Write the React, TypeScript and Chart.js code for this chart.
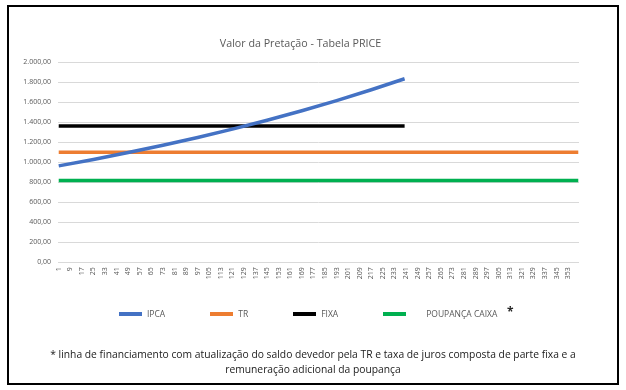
import React, { useEffect, useRef } from "react";
import { Chart, registerables } from "chart.js";

Chart.register(...registerables);

// Category axis: months 1..360
const months: string[] = Array.from({ length: 360 }, (_, i) => String(i + 1));

// Series (at sample months)
const ipcaMonths = ["1", "25", "49", "73", "97", "121", "145", "169", "193", "217", "240"];
const ipcaValues = [963, 1027, 1096, 1169, 1247, 1330, 1419, 1514, 1615, 1723, 1833];

const trMonths = ["1", "360"];
const trValues = [1100, 1100];

const fixaMonths = ["1", "240"];
const fixaValues = [1360, 1360];

const poupMonths = ["1", "360"];
const poupValues = [817, 817];

const seriesLabels = ["IPCA", "TR", "FIXA", "POUPANÇA CAIXA"];
const seriesColors = ["#4472C4", "#ED7D31", "#000000", "#00B050"];

const titleText = "Valor da Pretação - Tabela PRICE";
const footLine1 =
  "* linha de financiamento com atualização do saldo devedor pela TR e taxa de juros composta de parte fixa e a";
const footLine2 = "remuneração adicional da poupança";

const FONT = "'Open Sans', 'Noto Sans', sans-serif";

function toPoints(xs: string[], ys: number[]) {
  return xs.map((x, i) => ({ x, y: ys[i] }));
}

export default function App() {
  const ref = useRef<HTMLCanvasElement | null>(null);

  useEffect(() => {
    if (!ref.current) return;
    const series = [
      toPoints(ipcaMonths, ipcaValues),
      toPoints(trMonths, trValues),
      toPoints(fixaMonths, fixaValues),
      toPoints(poupMonths, poupValues),
    ];
    const chart = new Chart(ref.current, {
      type: "line",
      data: {
        labels: months,
        datasets: series.map((d, i) => ({
          label: seriesLabels[i],
          data: d as any,
          borderColor: seriesColors[i],
          backgroundColor: seriesColors[i],
          borderWidth: 3.5,
          pointRadius: 0,
          fill: false,
          tension: 0,
        })),
      },
      options: {
        responsive: false,
        animation: false,
        events: [],
        layout: { padding: { left: 22, right: 47, top: 0, bottom: 107.7 } },
        plugins: {
          tooltip: { enabled: false },
          legend: { display: false },
          title: {
            display: true,
            text: titleText,
            color: "#595959",
            font: { family: FONT, size: 10.7, weight: "normal" },
            padding: { top: 38, bottom: 11.2 },
          },
        },
        scales: {
          x: {
            type: "category",
            offset: true,
            grid: { display: false, drawTicks: false },
            border: { display: false },
            afterFit: (s: any) => {
              s.height = 20;
            },
            ticks: {
              autoSkip: false,
              maxRotation: 90,
              minRotation: 90,
              padding: 5,
              color: "#595959",
              font: { family: FONT, size: 7 },
              callback: (_v: any, idx: number) => (idx % 8 === 0 ? months[idx] : ""),
            },
          },
          y: {
            min: 0,
            max: 2000,
            grid: { color: "#d9d9d9", lineWidth: 1, drawTicks: false },
            border: { display: false },
            afterFit: (s: any) => {
              s.width = 36;
            },
            ticks: {
              stepSize: 200,
              padding: 7,
              color: "#595959",
              font: { family: FONT, size: 7 },
              callback: (v: any) =>
                Number(v).toLocaleString("pt-BR", {
                  minimumFractionDigits: 2,
                  maximumFractionDigits: 2,
                }),
            },
          },
        },
      },
    });
    return () => chart.destroy();
  }, []);

  return (
    <div style={{ position: "absolute", left: 0, top: 0, width: 626, height: 390 }}>
      <div
        style={{
          position: "absolute",
          left: 7,
          top: 5,
          width: 612,
          height: 380,
          border: "2px solid #000",
          boxSizing: "border-box",
        }}
      />
      <canvas
        ref={ref}
        width={626}
        height={390}
        style={{ position: "absolute", left: 0, top: 0, width: 626, height: 390 }}
      />
      <div
        style={{
          position: "absolute",
          left: 119,
          top: 306,
          height: 15,
          display: "flex",
          alignItems: "center",
          gap: 45,
          fontFamily: FONT,
          fontSize: 8.5,
          color: "#595959",
          whiteSpace: "nowrap",
        }}
      >
        {seriesLabels.map((lab, i) => (
          <div key={lab} style={{ display: "flex", alignItems: "center" }}>
            <span
              style={{
                display: "inline-block",
                width: 23,
                height: 4,
                background: seriesColors[i],
                marginRight: i === 3 ? 20 : 5,
              }}
            />
            <span>{lab}</span>
          </div>
        ))}
      </div>
      <span
        style={{
          position: "absolute",
          left: 507,
          top: 305,
          fontFamily: FONT,
          fontSize: 12,
          fontWeight: "bold",
          color: "#262626",
          lineHeight: "14px",
        }}
      >
        *
      </span>
      <div
        style={{
          position: "absolute",
          left: 8,
          width: 610,
          top: 347,
          textAlign: "center",
          fontFamily: FONT,
          fontSize: 10.3,
          lineHeight: "15px",
          color: "#1a1a1a",
        }}
      >
        {footLine1}
        <br />
        {footLine2}
      </div>
    </div>
  );
}
